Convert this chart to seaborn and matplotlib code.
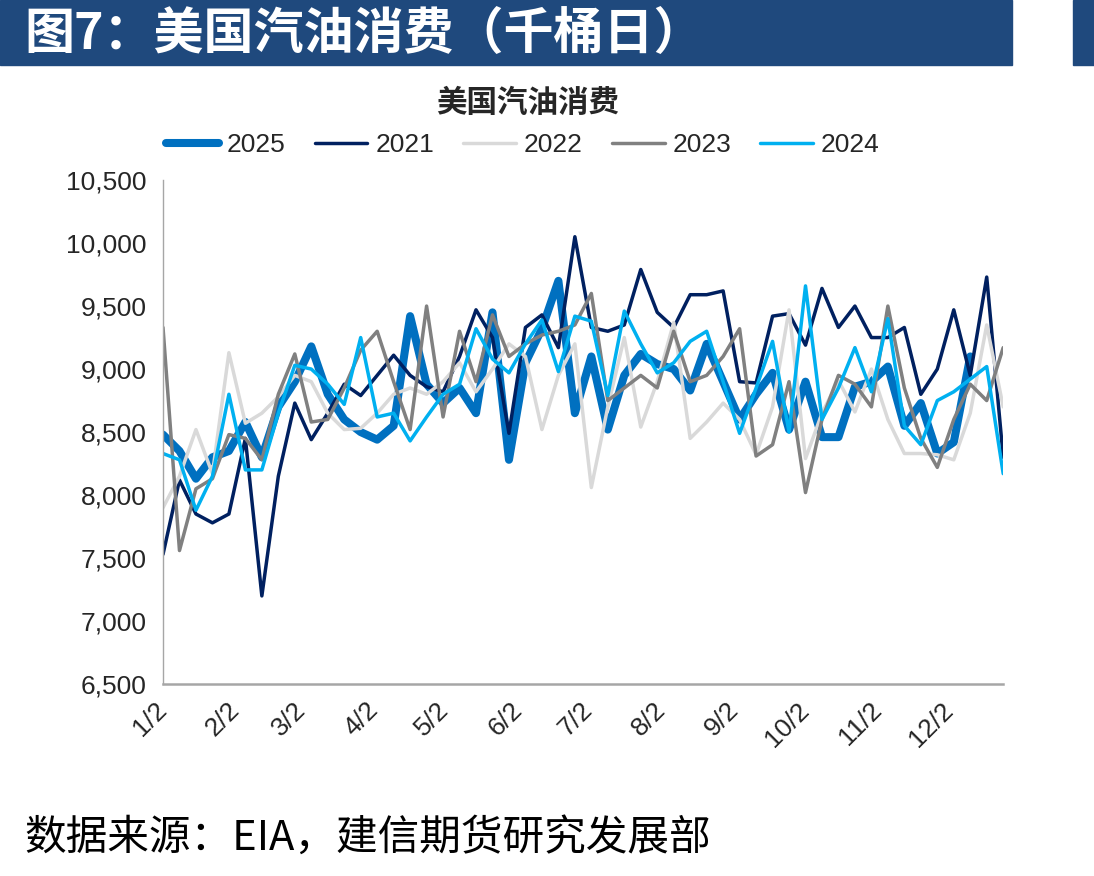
import pandas as pd
import matplotlib
matplotlib.use("Agg")
import matplotlib.pyplot as plt
import seaborn as sns
from matplotlib.lines import Line2D
from matplotlib.patches import Rectangle

# weekly US gasoline consumption, kb/d
y2025 = [8480, 8350, 8130, 8300, 8350, 8580, 8300, 8700, 8900, 9180, 8800, 8600, 8500,
         8440, 8550, 9420, 8880, 8730, 8850, 8650, 9450, 8280, 9050, 9320, 9700, 8650,
         9100, 8520, 8950, 9120, 9040, 9000, 8830, 9200, 8900, 8600, 8800, 8970, 8520,
         8900, 8460, 8460, 8860, 8900, 9020, 8550, 8730, 8330, 8420, 9100]
y2021 = [7530, 8120, 7850, 7780, 7850, 8450, 7200, 8150, 8730, 8440, 8650, 8880, 8790,
         8950, 9110, 8950, 8860, 8820, 9100, 9470, 9250, 8490, 9330, 9430, 9170, 10050,
         9330, 9300, 9350, 9790, 9450, 9330, 9590, 9590, 9620, 8900, 8890, 9420, 9440,
         9190, 9640, 9330, 9500, 9250, 9250, 9330, 8800, 9000, 9470, 8950, 9730, 8300]
y2022 = [7900, 8150, 8520, 8170, 9130, 8570, 8650, 8780, 8950, 8900, 8650, 8520, 8530,
         8650, 8800, 8850, 8800, 8900, 9050, 8820, 9000, 9200, 9100, 8520, 8950, 9200,
         8060, 8700, 9250, 8540, 8900, 9370, 8450, 8580, 8730, 8600, 8320, 8700, 9470,
         8290, 8650, 8910, 8660, 9000, 8600, 8330, 8330, 8320, 8280, 8650, 9350, 8700]
y2023 = [9330, 7560, 8050, 8130, 8480, 8450, 8280, 8800, 9120, 8580, 8600, 8850, 9150,
         9300, 8900, 8520, 9500, 8620, 9300, 8900, 9430, 9100, 9200, 9270, 9300, 9350,
         9600, 8750, 8850, 8950, 8850, 9300, 8900, 8950, 9100, 9320, 8310, 8400, 8900,
         8020, 8600, 8950, 8880, 8700, 9500, 8850, 8450, 8220, 8600, 8880, 8750, 9170]
y2024 = [8330, 8280, 7880, 8150, 8800, 8200, 8200, 8650, 9030, 9000, 8880, 8720, 9250,
         8620, 8650, 8430, 8620, 8800, 8880, 9320, 9080, 8970, 9200, 9390, 8980, 9420,
         9380, 8790, 9460, 9200, 8970, 9050, 9220, 9300, 8900, 8490, 8850, 9220, 8500,
         9660, 8600, 8850, 9170, 8820, 9400, 8550, 8400, 8750, 8820, 8920, 9020, 8170]

years = ["2025", "2021", "2022", "2023", "2024"]
y_ticks = [6500, 7000, 7500, 8000, 8500, 9000, 9500, 10000, 10500]
x_labels = ["1/2", "2/2", "3/2", "4/2", "5/2", "6/2", "7/2", "8/2", "9/2", "10/2", "11/2", "12/2"]

series = dict(zip(years, [y2025, y2021, y2022, y2023, y2024]))
colors = {"2025": "#0070C0", "2021": "#002060", "2022": "#D9D9D9",
          "2023": "#808080", "2024": "#00B0F0"}
widths = {"2025": 5.8, "2021": 2.5, "2022": 2.5, "2023": 2.5, "2024": 2.5}

weeks = pd.date_range("2025-01-02", periods=52, freq="7D")
tick_dates = pd.to_datetime([f"2025-{m}-02" for m in range(1, 13)])

sns.set_style("white")
plt.rcParams["font.family"] = ["Liberation Sans", "Noto Sans CJK SC"]
cjk = ["Noto Sans CJK SC", "DejaVu Sans"]

fig = plt.figure(figsize=(10.94, 8.76), dpi=100)
ax = fig.add_axes([0.149, 0.219, 0.768, 0.5755])

for yr in years:
    vals = series[yr]
    sns.lineplot(x=weeks[:len(vals)], y=vals, color=colors[yr], lw=widths[yr],
                 ax=ax, legend=False)

ax.set_xlim(weeks[0], weeks[-1])
ax.set_ylim(6500, 10500)
ax.set_yticks(y_ticks, [f"{v:,}" for v in y_ticks])
ax.set_xticks(tick_dates, x_labels)
ax.tick_params(axis="y", length=0, labelsize=19, pad=12)
ax.tick_params(axis="x", length=0, labelsize=19, pad=16)
for lab in ax.get_xticklabels():
    lab.set_rotation(45)
    lab.set_ha("right")
    lab.set_va("center")
    lab.set_rotation_mode("anchor")
ax.set_xlabel("")
ax.set_ylabel("")
ax.grid(False)
for side in ["top", "right"]:
    ax.spines[side].set_visible(False)
ax.spines["left"].set_color("#A6A6A6")
ax.spines["left"].set_linewidth(1.0)
ax.spines["bottom"].set_color("#A6A6A6")
ax.spines["bottom"].set_linewidth(1.8)

handles = [Line2D([], [], color=colors[yr], lw=widths[yr], solid_capstyle="round") for yr in years]
fig.legend(handles, years, loc="center", bbox_to_anchor=(0.478, 0.834), ncol=5,
           frameon=False, fontsize=19, handlelength=2.0, columnspacing=1.1,
           handletextpad=0.3)

fig.text(0.482, 0.882, "美国汽油消费", ha="center", va="center", fontsize=22,
         fontweight="bold", family=cjk)

# header banner
fig.patches.append(Rectangle((0, 1 - 65 / 876), 1012 / 1094, 65 / 876,
                             transform=fig.transFigure, color="#1F497D", zorder=0))
fig.patches.append(Rectangle((1073 / 1094, 1 - 65 / 876), 21 / 1094, 65 / 876,
                             transform=fig.transFigure, color="#1F497D", zorder=0))
fig.text(0.022, 1 - 35 / 876, "图7：美国汽油消费（千桶日）", ha="left", va="center",
         fontsize=36, fontweight="bold", color="white", family=cjk)

fig.text(0.022, 1 - 838 / 876, "数据来源：EIA，建信期货研究发展部", ha="left", va="center",
         fontsize=30, style="italic", color="black", family=cjk)

fig.savefig("out.png", dpi=100)
